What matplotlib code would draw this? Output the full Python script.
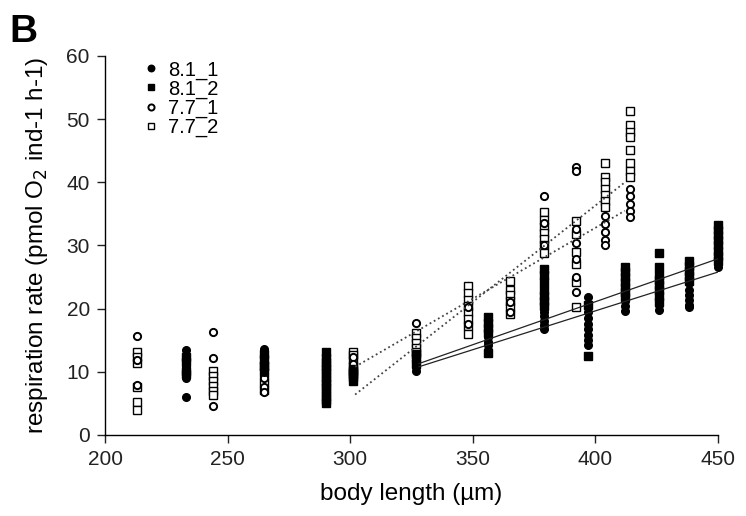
import matplotlib
matplotlib.use("Agg")
import matplotlib.pyplot as plt

plt.rcParams['font.family'] = ['Liberation Sans', 'DejaVu Sans']

# ==================== DATA ====================
# 8.1_1 (filled circles)
x81_1 = [233]*4 + [265]*7 + [327]*4 + [356]*5 + [379]*5 + [397]*9 + [412]*4 + [426]*5 + [438]*6 + [450]*3
y81_1 = [13.4, 10.8, 9.0, 6.0,
         13.6, 13.0, 12.4, 11.8, 11.2, 10.6, 10.0,
         12.0, 11.4, 10.8, 10.2,
         16.5, 15.5, 14.8, 14.2, 13.5,
         19.5, 18.8, 18.0, 17.4, 16.8,
         21.8, 20.2, 19.4, 18.5, 17.6, 16.8, 15.8, 15.0, 14.2,
         22.0, 21.2, 20.4, 19.6,
         23.0, 22.2, 21.4, 20.6, 19.8,
         24.0, 23.0, 22.2, 21.4, 20.6, 20.2,
         28.5, 27.5, 26.6]

# 8.1_2 (filled squares)
x81_2 = [233]*4 + [265]*2 + [290]*14 + [301]*4 + [327]*3 + [356]*5 + [379]*7 + [397]*2 + [412]*7 + [426]*8 + [438]*5 + [450]*8
y81_2 = [12.4, 11.6, 10.2, 9.6,
         12.8, 11.0,
         13.2, 12.2, 11.6, 11.0, 10.4, 9.8, 9.2, 8.6, 8.0, 7.4, 6.8, 6.2, 5.6, 5.0,
         10.4, 9.8, 9.2, 8.6,
         12.8, 12.4, 11.2,
         18.6, 17.8, 17.0, 16.2, 13.0,
         26.2, 25.4, 24.2, 23.0, 22.0, 21.2, 20.4,
         20.6, 12.5,
         26.6, 25.8, 25.0, 24.2, 23.4, 22.6, 21.8,
         28.8, 26.6, 25.4, 24.6, 23.8, 23.0, 22.0, 21.0,
         27.6, 26.8, 26.0, 25.2, 24.4,
         33.2, 32.4, 31.6, 30.8, 30.0, 29.2, 28.4, 27.6]

# 7.7_1 (open circles)
x77_1 = [213]*3 + [244]*3 + [265]*5 + [301]*2 + [327]*3 + [348]*2 + [365]*2 + [379]*3 + [392]*7 + [404]*5 + [414]*5
y77_1 = [15.6, 11.8, 7.9,
         16.3, 12.2, 4.6,
         11.6, 10.4, 9.0, 7.6, 6.8,
         12.4, 11.2,
         17.8, 12.6, 11.6,
         20.2, 17.5,
         21.0, 19.4,
         37.8, 33.5, 30.0,
         42.5, 41.8, 32.6, 30.4, 27.8, 25.0, 22.6,
         34.7, 33.4, 32.1, 30.8, 30.0,
         39.0, 37.8, 36.6, 35.5, 34.5]

# 7.7_2 (open squares)
x77_2 = [213]*6 + [244]*6 + [265]*5 + [301]*6 + [327]*5 + [348]*8 + [365]*6 + [379]*7 + [392]*6 + [404]*7 + [414]*8
y77_2 = [13.2, 12.4, 11.4, 7.6, 5.2, 4.0,
         10.2, 9.4, 8.6, 7.8, 7.0, 6.3,
         12.0, 11.0, 9.8, 8.4, 7.2,
         13.2, 12.6, 11.8, 11.0, 10.2, 9.6,
         16.2, 15.4, 14.6, 13.8, 13.2,
         23.6, 22.4, 21.4, 20.4, 19.4, 18.4, 17.2, 16.0,
         24.4, 23.0, 22.2, 21.2, 20.2, 19.2,
         35.3, 34.0, 33.0, 32.0, 31.0, 30.0, 28.8,
         33.8, 31.8, 29.0, 27.0, 24.2, 20.2,
         43.0, 40.9, 40.0, 39.0, 38.0, 37.0, 36.1,
         51.3, 49.1, 48.0, 47.2, 45.1, 43.0, 41.8, 40.9]

# regression lines (start / end)
fit81_x = [328, 450]
fit81_1_y = [11.3, 27.9]
fit81_2_y = [10.8, 25.8]
fit77_x = [302, 412]
fit77_1_y = [10.8, 35.5]
fit77_2_y = [6.4, 40.0]

x_ticks = [200, 250, 300, 350, 400, 450]
y_ticks = [0, 10, 20, 30, 40, 50, 60]

# ==================== PLOT ====================
fig = plt.figure(figsize=(7.46, 5.16), dpi=100)
ax = fig.add_axes([0.1408, 0.157, 0.8217, 0.7345])

ax.plot(x77_2, y77_2, 's', ms=5.8, mfc='white', mec='black', mew=1.0, ls='none', label='7.7_2', clip_on=False, zorder=3)
ax.plot(x77_1, y77_1, 'o', ms=5.2, mfc='white', mec='black', mew=1.4, ls='none', label='7.7_1', clip_on=False, zorder=3)
ax.plot(x81_2, y81_2, 's', ms=5.5, mfc='black', mec='black', ls='none', label='8.1_2', clip_on=False, zorder=4)
ax.plot(x81_1, y81_1, 'o', ms=5.5, mfc='black', mec='black', ls='none', label='8.1_1', clip_on=False, zorder=4)

ax.plot(fit81_x, fit81_1_y, '-', color='#222222', lw=0.9, zorder=5)
ax.plot(fit81_x, fit81_2_y, '-', color='#222222', lw=0.9, zorder=5)
ax.plot(fit77_x, fit77_1_y, ':', color='#444444', lw=1.3, zorder=5)
ax.plot(fit77_x, fit77_2_y, ':', color='#444444', lw=1.3, zorder=5)

ax.set_xlim(200, 450)
ax.set_ylim(0, 60)
ax.set_xticks(x_ticks)
ax.set_yticks(y_ticks)
ax.spines['top'].set_visible(False)
ax.spines['right'].set_visible(False)
for s in ['left', 'bottom']:
    ax.spines[s].set_linewidth(1.0)
ax.tick_params(direction='out', length=6, width=1.0, labelsize=15, pad=5, colors='#222222')

ax.set_xlabel('body length (µm)', fontsize=17.5, labelpad=10)
ax.set_ylabel('respiration rate (pmol O$_2$ ind-1 h-1)', fontsize=17.5, labelpad=12)

handles, labels = ax.get_legend_handles_labels()
order = [3, 2, 1, 0]
leg = ax.legend([handles[i] for i in order], [labels[i] for i in order],
                loc='upper left', bbox_to_anchor=(0.045, 1.01), frameon=False,
                fontsize=14.5, handletextpad=0.35, labelspacing=0.0, borderaxespad=0,
                handlelength=1.0, markerscale=0.85)

fig.text(0.012, 0.918, 'B', fontsize=28, fontweight='bold')

plt.savefig("out.png", dpi=100)
